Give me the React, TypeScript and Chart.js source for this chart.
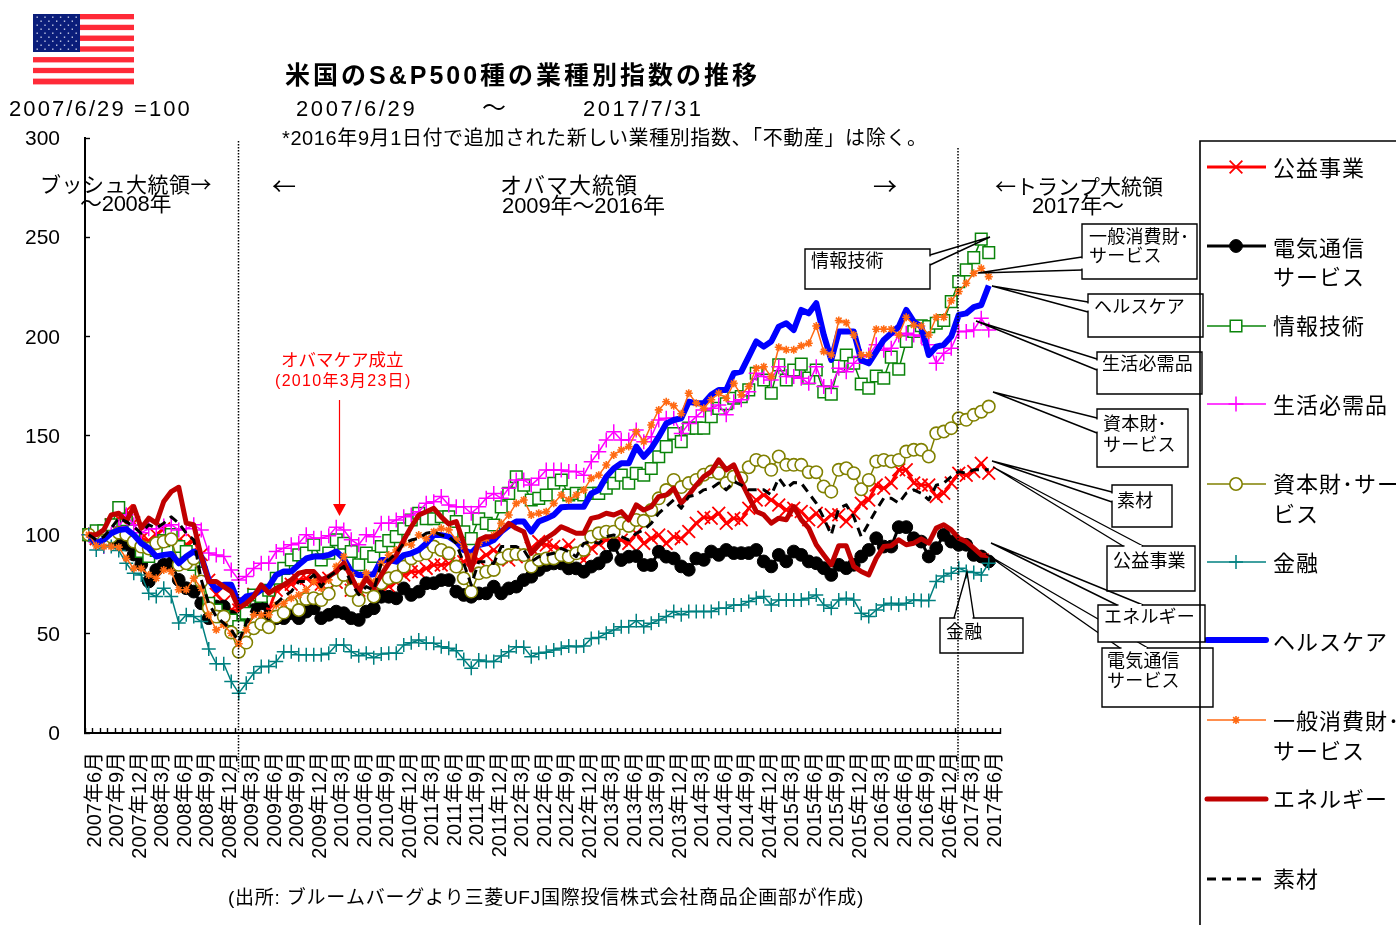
import React, { useEffect, useRef } from "react";
import { Chart, registerables } from "chart.js";
import { drawPoint } from "chart.js/helpers";

Chart.register(...registerables);

// Month-end index levels of the S&P 500 sectors, 2007/6/29 = 100.
const utilities = [
  100,98,100,105,108,112,106,98,97,100,
  103,100,97,95,97,90,77,70,66,62,
  62,65,70,65.4,62,72,74,75,77,78,
  76,75,78,76,82,72,72,78,72,72,
  74,76,79.7,81.3,81.3,83,84.7,84.7,85.5,85.5,
  86.4,88.9,87.2,89.7,92.3,88.9,87.2,88.9,90.6,93.1,
  96.5,94.8,94,92.3,94.8,90.6,87.2,93.1,95.6,97.3,
  97.3,97.3,95.6,100.7,95.6,98.2,99.8,95.6,99,98,
  101.6,105.8,108.8,108.3,110.8,105.8,108.3,107.5,113.3,117.5,
  120,117.5,115,112.5,113.3,111.7,107.5,110.8,106.6,110,
  110,106.6,110.8,115.9,117.5,125,123.4,126,132.7,132.7,
  126,125,125,119.2,120.9,126,131,130,131.8,136,
  131,
];
const telecom = [
  100,98,97,98,97,95,90,85,76.4,82.2,
  84.8,85.6,77.2,73,71.3,65.4,57.9,63.8,63.8,58.7,
  53.7,58.7,62,65.4,58.7,57.9,57.9,60.4,57.9,61.2,
  62.9,57.9,59.6,61.2,60.4,57.9,57,61.2,62.9,68.7,
  68.7,67.9,72.9,69.6,71.3,75.5,75.5,77.1,77.1,71.3,
  69.6,68.7,70.4,70.4,73.8,70.4,72.9,73.8,77.1,78.8,
  82.2,84.7,85.5,85.5,83,83,81.3,83.9,85.5,88.9,
  94.8,87.2,88.9,89.2,84.7,84.7,91.4,88.9,88,84,
  82.3,88,87.3,91.5,89.8,92.3,90.7,90.7,90.7,92.3,
  86.5,84,89.8,86.5,91.5,89.8,86.5,85.6,83.1,79.7,
  84.8,83.1,84.8,89,92.3,98.2,94,94,103.8,103.8,
  98.2,96.5,89,93.2,99.9,96.5,94.9,94.9,89.8,89,
  86.5,
];
const infoTech = [
  100,102,102,105,113.7,107.5,102,91.5,89,92,
  97,100,94,91.5,85,80.6,65.4,62,58.7,57,
  53.7,60.4,69.6,68.8,72,78,83,87.3,89.8,90.7,
  94.9,87.3,90.7,97.4,95.7,91.5,84.8,90.7,89,94,
  97,99,103,107.4,110.8,108,108,109,109,106.6,
  101.5,98,108,105.7,104.9,114,120.8,129.2,125,117.5,
  118.3,120,125.9,127.6,120,120.8,120,120.8,120.8,123.4,
  125.9,130,125.9,130.9,130,133.4,139.3,144.4,151,146.9,
  153.7,153.7,153.7,159.5,163.7,166,168.8,169.6,173,181.4,
  178,171.3,185.6,178,183,186,179,183,172,170.8,
  185,190.6,186.4,176,173.8,180,178.9,189.5,183.4,197.4,
  202.4,205.3,204.9,206.6,208,217.5,227.6,233.5,239.7,249,
  242.2,
];
const staples = [
  100,96,94,100,104,110,105,101,103,103,
  104.4,105,102.4,103,105,102.4,90.7,89.8,89,82.2,
  77.2,78.9,83,85.6,85.6,91.5,93.2,94.9,95.7,99.9,
  98.2,98.2,99.4,103.8,102.4,97.4,94.9,99.9,99,105.7,
  105.7,107.4,109,109.9,111.6,115.8,116.6,119.2,115,114.1,
  114.1,110.8,114.1,118.3,120.8,118.3,123.4,127.6,127.6,125,
  128.4,132.6,132.6,132.6,131.8,131.8,130,136.8,141.8,147.7,
  151.9,147.7,147.7,152.8,146.9,149.4,157.8,158.7,158.7,151,
  156,159.5,162.9,163.7,165.4,160.4,167,168,172,181.4,
  179.7,178,184.7,179.7,179.7,178.9,176.3,184.7,174.7,174.7,
  183.9,182.2,186.4,189.8,190.6,195.7,193,194,200.7,201.6,
  200.7,199.9,195.7,186.4,191.5,194,202.4,202.4,203.2,209.1,
  203.2,
];
const industrials = [
  100,98,97,99,101,100,96.5,94,93,95.7,
  96.5,97.7,84.8,85.6,88,76.4,63,58.7,58.7,50.7,
  41,45.6,52.8,55,53.3,58.7,60.7,65.4,62,67.6,
  68,67,70.2,77.2,79.7,72,67,73.8,68.8,75.5,
  78,78.8,83.9,88,89.7,90.6,94,92.3,90.6,83.9,
  78,71.3,80.5,81.3,82.2,88,89.7,90.3,89.7,83.9,
  87.2,88,88,89.7,88.9,90.6,92.3,99,100.7,101.5,
  101.5,105.7,104.4,107.4,107,112.4,118.3,122.5,127.6,124,
  126,127.6,130.2,131.8,131,126,129.3,128.5,134,137.7,
  136.9,132.7,139.4,135.2,135.2,135.2,131.5,131.5,124.3,121.7,
  132.7,133.5,131,122.9,127.6,136.9,137.7,136.9,137.7,141.9,
  142.8,142.8,139.4,151.1,152,153.7,158.7,157.9,160.4,162,
  164.6,
];
const financials = [
  100,92.3,94,94,92,85.6,80.6,79.7,70.5,68.8,
  73,68.8,55.4,59.6,58.7,56.2,42.3,34.9,34.9,26,
  20.1,25.1,30.2,33.5,33.5,36,41,41,39.4,39.4,
  39.4,39.4,40.2,44.4,44.4,41,38.9,40.2,38,39.8,
  40.2,40.2,44.4,45.5,46.9,45.2,45.2,43.5,42.7,41.5,
  37.1,32.6,36.8,36,36,38.8,41,43.5,43.2,38.5,
  40.2,40.7,41.8,42.7,43.9,43.5,43.9,47.7,48.2,50.3,
  51.9,53.6,53.6,56.6,53.6,55.3,57,58.7,61.2,59.6,
  61.2,61.2,61.2,61.2,62.9,62.9,64.6,64.6,66.3,68,
  68.8,64.6,67.1,67.1,67.1,67.1,68,69.6,64.6,62.9,
  67.1,68,67.1,60.4,58.7,62,64.6,65.4,64.6,65.4,
  67.1,66.8,66.8,76.4,79.2,80.6,83.1,81.4,80.9,79.7,
  85.6,
];
const healthCare = [
  100,95.7,97.4,100.7,102.4,102.8,99.9,95.7,93.2,89,
  89.8,90.3,85.6,89,91.5,89,77.2,72.2,74.7,74.7,
  65.4,68.8,69.6,72.2,73.8,79.7,81.4,81.4,84.8,88,
  89,89,89.8,91.5,88,81.4,79.7,79.7,80,87.2,
  87.2,86.4,89.7,90.6,92.3,95.6,99.8,99.8,99,96.5,
  92.3,90.6,94.8,95.6,97.3,101.5,104.4,106.6,106.6,101.5,
  106.6,108.2,109.9,113.8,114.1,114.1,114.1,120.8,122.5,129.2,
  133.4,136,136,144.4,139.3,143.5,149.4,156.1,157.8,158.7,
  167,166.3,166.3,170.5,173,173,181.4,182.2,189.8,197.4,
  194.8,197.4,204.9,206.6,203.2,213.3,211.6,216.7,200.7,188.1,
  202.4,202.4,202.4,188,186.4,192.3,198.2,201.6,204.9,213.3,
  207.4,204.9,190.6,194.8,195.7,199.9,210.8,211.6,214.7,215.8,
  225.6,
];
const discretionary = [
  100,94.4,94,94,93.7,88,83,83,79.7,78,
  82.2,81.4,72.2,72.2,78,73,59.6,52,54.5,50.3,
  45,52,59.6,59.6,59.6,64.6,65.4,68,69.6,72.2,
  76.4,73,77.2,84,89,79.7,73.8,80.6,76,85.5,
  89.7,92.3,95.6,94.8,99.8,98,101.5,103.2,102.4,97.3,
  94,88.9,95.6,98,99.8,105.7,109.9,115.8,117.5,109.9,
  110.8,111.6,115.8,120,117.5,120,122.5,128.4,130,135.1,
  140.2,142.7,144.4,151.9,146.9,155.3,162.9,167,165,161,
  171.3,166.3,163.7,168,171.3,168.8,176.3,170.5,174.7,183.9,
  184.7,179.7,194.5,193.2,193.2,195.2,196.5,205.2,192.3,190.6,
  208,206.9,200.7,190.6,190.6,203.6,203.6,203.6,200.7,209.6,
  205.7,205.2,200.7,209.6,209.6,218,222.6,226.8,231.8,234.3,
  230.1,
];
const energy = [
  100,99.9,102.4,110,110.8,106.6,114.2,103.3,108.3,105.8,
  116.7,121.7,123.9,105.8,105,89,76.4,76.4,73.8,71.3,
  62.9,65.4,68.8,74.7,70.5,73,74.7,77.2,80.6,81.4,
  81.4,77.2,78.9,81.4,85.6,78.9,71.3,78,73.4,79.7,
  85.5,89.7,97.3,104,109.9,111.6,113.3,109,105.4,106.6,
  95.6,82.2,97.3,99,99,101.5,105.7,103.2,101.5,90.6,
  94.8,98.2,100.7,104,102.4,100.7,100.7,108.2,109,110.8,
  109.9,111.6,107.4,115,112.4,114.1,119.2,120,123.4,115.9,
  120,125,129.3,131.8,137.7,132.7,135.2,126.8,119.2,111.7,
  110,105.8,108.3,107.5,114.2,107.5,103.3,94.9,89.8,84.8,
  94.4,94.4,84,81.4,79.7,88.1,94,94.4,97.4,94.9,
  95.7,97.9,95.7,103.3,105,102.4,98.2,96.5,93.2,89.8,
  89.3,
];
const materials = [
  100,97.4,99,103.3,108.3,106.6,104,100.7,105,103.3,
  105.8,109,105.8,100.7,97.4,77.2,65.4,58.7,55.4,52,
  46.1,55.4,63.8,65.4,63.8,65.4,68.8,71.3,76.4,76.4,
  79.7,73.8,78.9,81.4,84,75.5,69.7,73.8,72,85.5,
  87.2,90.6,95.6,97.3,98.2,100.7,101.5,99.8,99,95.6,
  85.5,74.6,86.4,86.4,85.5,94,94,94,92.3,86.4,
  88.9,89.7,90.6,93.1,91.4,88.9,95.6,96.5,95.6,99,
  99.8,99,97.3,100.7,102.4,105.7,110.8,114.1,117.5,113.3,
  119.2,120,122.6,123.4,126,122.6,126.8,125,122.6,122.6,
  122.6,120,128.5,123.4,126.3,126,120.9,115.9,108.3,99.9,
  113.3,115,109,99,105.8,112.5,118.4,118.4,115.9,120.9,
  122.6,120.9,117.5,125,126,129.3,131.8,131,132.7,132.7,
  132.7,
];

// Category axis: June 2007 to July 2017, labelled every third month.
const startYear = 2007;
const startMonth = 6;
const monthCount = 122;
const categories: string[] = [];
for (let i = 0; i < monthCount; i++) {
  const m = startMonth - 1 + i;
  categories.push(`${startYear + Math.floor(m / 12)}年${(m % 12) + 1}月`);
}

const FONT = '"Liberation Sans", "Noto Sans CJK JP", sans-serif';
const CJK_FIRST = '"Noto Sans CJK JP", "Liberation Sans", sans-serif';

type Series = {
  name: string[];
  data: number[];
  color: string;
  width: number;
  point: string | false;
  radius: number;
  pointWidth: number;
  fill: string;
  dash?: number[];
  legendY: number;
  textYs: number[];
};

// Listed in legend order; later entries paint over earlier ones.
const seriesList: Series[] = [
  { name: ["公益事業"], data: utilities, color: "#ff0000", width: 3, point: "crossRot", radius: 9, pointWidth: 1.8, fill: "#ff0000", legendY: 167, textYs: [168] },
  { name: ["電気通信", "サービス"], data: telecom, color: "#000000", width: 3, point: "circle", radius: 6.4, pointWidth: 1, fill: "#000000", legendY: 246, textYs: [248, 277] },
  { name: ["情報技術"], data: infoTech, color: "#0a840a", width: 1.5, point: "rect", radius: 8.2, pointWidth: 1.5, fill: "#ffffff", legendY: 326, textYs: [326] },
  { name: ["生活必需品"], data: staples, color: "#ff00ff", width: 1.5, point: "cross", radius: 7.5, pointWidth: 1.5, fill: "#ff00ff", legendY: 404, textYs: [405] },
  { name: ["資本財･サー", "ビス"], data: industrials, color: "#808000", width: 1.5, point: "circle", radius: 6.2, pointWidth: 1.6, fill: "#ffffff", legendY: 484, textYs: [484, 514] },
  { name: ["金融"], data: financials, color: "#008080", width: 1.5, point: "cross", radius: 7, pointWidth: 1.5, fill: "#008080", legendY: 562, textYs: [563] },
  { name: ["ヘルスケア"], data: healthCare, color: "#0000ff", width: 6, point: false, radius: 0, pointWidth: 0, fill: "#0000ff", legendY: 640, textYs: [642] },
  { name: ["一般消費財･", "サービス"], data: discretionary, color: "#ff6a13", width: 1.5, point: "star", radius: 4, pointWidth: 1.6, fill: "#ff6a13", legendY: 720, textYs: [721, 751] },
  { name: ["エネルギー"], data: energy, color: "#c00000", width: 5, point: false, radius: 0, pointWidth: 0, fill: "#c00000", legendY: 799, textYs: [799] },
  { name: ["素材"], data: materials, color: "#000000", width: 3, point: false, radius: 0, pointWidth: 0, fill: "#000000", dash: [9, 6], legendY: 879, textYs: [879] },
];

type Callout = {
  box: [number, number, number, number];
  base: [number, number, number, number];
  tip: [number, number];
  lines: string[];
  textX: number;
  textYs: number[];
};

// Sector call-outs: box corners, the two points on the box edge and the wedge tip.
const callouts: Callout[] = [
  { box: [805, 249, 930, 289], base: [930, 255, 930, 265], tip: [990, 237], lines: ["情報技術"], textX: 811, textYs: [261] },
  { box: [1082, 224, 1197, 279], base: [1082, 257, 1082, 270], tip: [978, 273], lines: ["一般消費財･", "サービス"], textX: 1089, textYs: [237, 256] },
  { box: [1088, 294, 1203, 337], base: [1088, 302, 1088, 312], tip: [992, 286], lines: ["ヘルスケア"], textX: 1094, textYs: [307] },
  { box: [1097, 352, 1202, 394], base: [1097, 359, 1097, 370], tip: [976, 321], lines: ["生活必需品"], textX: 1102, textYs: [364] },
  { box: [1097, 409, 1188, 467], base: [1097, 418, 1097, 433], tip: [993, 392], lines: ["資本財･", "サービス"], textX: 1103, textYs: [424, 445] },
  { box: [1112, 485, 1172, 527], base: [1112, 492, 1112, 502], tip: [992, 461], lines: ["素材"], textX: 1117, textYs: [501] },
  { box: [1107, 546, 1195, 591], base: [1123, 546, 1143, 546], tip: [993, 467], lines: ["公益事業"], textX: 1113, textYs: [561] },
  { box: [1102, 648, 1213, 707], base: [1120, 648, 1148, 648], tip: [986, 554], lines: ["電気通信", "サービス"], textX: 1107, textYs: [661, 681] },
  { box: [1098, 605, 1205, 642], base: [1117, 605, 1143, 605], tip: [991, 543], lines: ["エネルギー"], textX: 1104, textYs: [617] },
  { box: [940, 618, 1023, 653], base: [954, 618, 974, 618], tip: [967, 572], lines: ["金融"], textX: 946, textYs: [632] },
];

type Caption = { text: string; x: number; y: number; size: number; bold?: boolean; color?: string; spacing?: number; cjk?: boolean };

const captions: Caption[] = [
  { text: "米国のS&P500種の業種別指数の推移", x: 285, y: 76, size: 25, bold: true, spacing: 3 },
  { text: "2007/6/29 =100", x: 9, y: 108, size: 22, spacing: 2.1 },
  { text: "2007/6/29", x: 296, y: 108, size: 22, spacing: 2.6 },
  { text: "～", x: 482, y: 108, size: 24 },
  { text: "2017/7/31", x: 583, y: 108, size: 22, spacing: 2.5 },
  { text: "*2016年9月1日付で追加された新しい業種別指数、「不動産」は除く。", x: 282, y: 138, size: 20, spacing: 0.6 },
  { text: "ブッシュ大統領→", x: 40, y: 183, size: 21, spacing: 0.5, cjk: true },
  { text: "～2008年", x: 80, y: 203, size: 22, spacing: -0.3 },
  { text: "←", x: 272, y: 184, size: 24, cjk: true },
  { text: "オバマ大統領", x: 500, y: 185, size: 22, spacing: 1 },
  { text: "2009年～2016年", x: 502, y: 205, size: 22, spacing: -0.1 },
  { text: "→", x: 873, y: 184, size: 24, cjk: true },
  { text: "←トランプ大統領", x: 995, y: 185, size: 21, cjk: true },
  { text: "2017年～", x: 1032, y: 205, size: 22, spacing: -0.2 },
  { text: "オバマケア成立", x: 281, y: 360, size: 17.5, color: "#ff0000" },
  { text: "(2010年3月23日)", x: 275, y: 380, size: 16, color: "#ff0000", spacing: 1.3 },
  { text: "(出所: ブルームバーグより三菱UFJ国際投信株式会社商品企画部が作成)", x: 228, y: 897, size: 19, spacing: 0.75 },
];

function setFont(ctx: CanvasRenderingContext2D, size: number, bold = false, spacing = 0, family = FONT) {
  ctx.font = `${bold ? "bold " : ""}${size}px ${family}`;
  (ctx as any).letterSpacing = `${spacing}px`;
  ctx.textBaseline = "middle";
  ctx.textAlign = "left";
}

// Middle-baseline text sits a little high in these faces.
const TEXT_DROP = 1.5;

function drawFlag(ctx: CanvasRenderingContext2D) {
  const [x, y, w, h] = [33, 14, 101, 70];
  const rows = 13;
  for (let i = 0; i < rows; i++) {
    ctx.fillStyle = i % 2 === 0 ? "#ff2a38" : "#ffffff";
    ctx.fillRect(x, y + (h * i) / rows, w, h / rows + 0.4);
  }
  ctx.fillStyle = "#0a1d7a";
  ctx.fillRect(x, y, 47, 38);
  ctx.fillStyle = "#c9cfe8";
  for (let r = 0; r < 9; r++) {
    const n = r % 2 === 0 ? 6 : 5;
    for (let c = 0; c < n; c++) {
      ctx.fillRect(x + 3.5 + c * 7.8 + (r % 2 ? 3.9 : 0), y + 2.5 + r * 4, 1.4, 1.4);
    }
  }
}

const annotationPlugin = {
  id: "sectorAnnotations",
  afterDatasetsDraw(chart: Chart) {
    const ctx = chart.ctx;
    ctx.save();
    drawFlag(ctx);

    for (const c of captions) {
      setFont(ctx, c.size, c.bold, c.spacing ?? 0, c.cjk ? CJK_FIRST : FONT);
      ctx.fillStyle = c.color ?? "#000000";
      ctx.fillText(c.text, c.x, c.y + TEXT_DROP);
    }

    // Passage of the Affordable Care Act, pointed at the March 2010 column.
    ctx.strokeStyle = "#ff0000";
    ctx.fillStyle = "#ff0000";
    ctx.lineWidth = 1.2;
    ctx.beginPath();
    ctx.moveTo(339.5, 400);
    ctx.lineTo(339.5, 506);
    ctx.stroke();
    ctx.beginPath();
    ctx.moveTo(333, 504);
    ctx.lineTo(346, 504);
    ctx.lineTo(339.5, 516);
    ctx.closePath();
    ctx.fill();

    // Legend panel.
    ctx.fillStyle = "#ffffff";
    ctx.fillRect(1201, 142, 195, 783);
    for (const s of seriesList) {
      ctx.strokeStyle = s.color;
      ctx.lineWidth = s.width;
      ctx.lineCap = s.width > 3 ? "round" : "butt";
      ctx.setLineDash(s.dash ?? []);
      ctx.beginPath();
      ctx.moveTo(1207, s.legendY);
      ctx.lineTo(1266, s.legendY);
      ctx.stroke();
      ctx.setLineDash([]);
      ctx.lineCap = "butt";
      if (s.point) {
        ctx.strokeStyle = s.color;
        ctx.fillStyle = s.fill;
        ctx.lineWidth = s.pointWidth;
        drawPoint(ctx, { pointStyle: s.point as any, radius: s.radius, rotation: 0, borderWidth: s.pointWidth }, 1236, s.legendY);
      }
      setFont(ctx, 22, false, 1);
      ctx.fillStyle = "#000000";
      s.name.forEach((t, i) => ctx.fillText(t, 1273, s.textYs[i] + TEXT_DROP));
    }

    for (const c of callouts) {
      const [x0, y0, x1, y1] = c.box;
      const vertical = c.base[0] === c.base[2];
      ctx.fillStyle = "#ffffff";
      ctx.strokeStyle = "#000000";
      ctx.lineWidth = 1.4;
      ctx.beginPath();
      ctx.rect(x0, y0, x1 - x0, y1 - y0);
      ctx.fill();
      ctx.stroke();
      ctx.beginPath();
      ctx.moveTo(c.base[0], c.base[1]);
      ctx.lineTo(c.tip[0], c.tip[1]);
      ctx.lineTo(c.base[2], c.base[3]);
      ctx.stroke();
      // Open the box edge where the wedge joins it.
      ctx.strokeStyle = "#ffffff";
      ctx.lineWidth = 2;
      ctx.beginPath();
      ctx.moveTo(c.base[0] + (vertical ? 0 : 1.5), c.base[1] + (vertical ? 1.5 : 0));
      ctx.lineTo(c.base[2] - (vertical ? 0 : 1.5), c.base[3] - (vertical ? 1.5 : 0));
      ctx.stroke();
      setFont(ctx, 18, false, 0.2);
      ctx.fillStyle = "#000000";
      c.lines.forEach((t, i) => ctx.fillText(t, c.textX, c.textYs[i] + TEXT_DROP));
    }

    // Change of administration markers.
    ctx.strokeStyle = "#000000";
    ctx.lineWidth = 1.5;
    ctx.setLineDash([1.5, 1.5]);
    for (const [x, top, bottom] of [[238.5, 141, 773], [958, 148, 780]]) {
      ctx.beginPath();
      ctx.moveTo(x, top);
      ctx.lineTo(x, bottom);
      ctx.stroke();
    }
    ctx.setLineDash([]);

    // Legend frame stays visible through the boxes that overlap it.
    ctx.strokeStyle = "#000000";
    ctx.lineWidth = 1.6;
    ctx.beginPath();
    ctx.moveTo(1396, 141);
    ctx.lineTo(1200, 141);
    ctx.lineTo(1200, 925);
    ctx.stroke();
    ctx.restore();
  },
};

export default function App() {
  const ref = useRef<HTMLCanvasElement>(null);

  useEffect(() => {
    const chart = new Chart(ref.current!, {
      type: "line",
      data: {
        labels: categories,
        datasets: seriesList.map((s, i) => ({
          label: s.name.join(""),
          data: s.data,
          order: seriesList.length - i,
          borderColor: s.color,
          backgroundColor: s.fill,
          borderWidth: s.width,
          borderDash: s.dash ?? [],
          borderJoinStyle: "round" as const,
          tension: 0,
          fill: false,
          pointStyle: s.point as any,
          pointRadius: s.radius,
          pointBorderColor: s.color,
          pointBackgroundColor: s.fill,
          pointBorderWidth: s.pointWidth,
        })),
      },
      options: {
        animation: false,
        responsive: false,
        devicePixelRatio: 1,
        layout: { padding: { left: 25, top: 138, right: 396, bottom: 62 } },
        plugins: { legend: { display: false }, title: { display: false }, tooltip: { enabled: false } },
        elements: { line: { capBezierPoints: false } },
        scales: {
          x: {
            type: "category",
            offset: true,
            afterFit: (s: any) => {
              s.height = 130;
              s.paddingLeft = 0;
              s.paddingRight = 0;
            },
            grid: { drawOnChartArea: false, offset: true, tickLength: -5, tickColor: "#000000", tickWidth: 1.4 },
            border: { color: "#000000", width: 2 },
            ticks: {
              autoSkip: false,
              minRotation: 90,
              maxRotation: 90,
              padding: 24,
              labelOffset: 6.5,
              color: "#000000",
              font: { family: FONT, size: 20 },
              callback: (_v: any, i: number) => (i % 3 === 0 && i <= 120 ? categories[i] : ""),
            },
          },
          y: {
            min: 0,
            max: 300,
            afterFit: (s: any) => {
              s.width = 60;
              s.paddingTop = 0;
              s.paddingBottom = 0;
            },
            grid: { drawOnChartArea: false, tickLength: -5, tickColor: "#000000", tickWidth: 1.4 },
            border: { color: "#000000", width: 2 },
            ticks: {
              stepSize: 50,
              padding: 30,
              labelOffset: 1.5,
              color: "#000000",
              font: { family: FONT, size: 21 },
            },
          },
        },
      },
      plugins: [annotationPlugin],
    } as any);
    return () => chart.destroy();
  }, []);

  return (
    <div style={{ position: "absolute", left: 0, top: 0, width: 1396, height: 925, background: "#ffffff", overflow: "hidden" }}>
      <canvas ref={ref} width={1396} height={925} style={{ display: "block" }} />
    </div>
  );
}
